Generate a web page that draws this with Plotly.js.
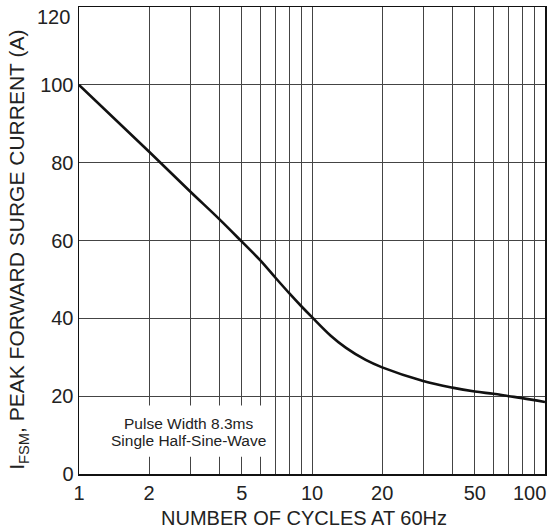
<!DOCTYPE html>
<html>
<head>
<meta charset="utf-8">
<script src="https://cdn.plot.ly/plotly-3.0.1.min.js"></script>
<style>html,body{margin:0;padding:0;background:#fff;}#chart{width:556px;height:531px;}</style>
</head>
<body>
<div id="chart"></div>
<script>
// Data
const cycles = [1, 2, 3, 4, 5, 6, 7, 8, 9, 10, 12, 14, 17, 20, 30, 40, 50, 60, 70, 80, 100];
const surgeCurrent = [100, 82.8, 72.6, 65.5, 59.7, 54.9, 50.3, 46.4, 43.1, 40.3, 35.6, 32.4, 29.3, 27.4, 23.9, 22.2, 21.2, 20.6, 20.0, 19.5, 18.5];

// Axis ticks / grid
const xTickVals = [1, 2, 5, 10, 20, 50];
const xTickLabels = ['1', '2', '5', '10', '20', '50'];
const xMinorGrid = [3, 4, 6, 7, 8, 9, 30, 40, 60, 70, 80, 90];
const xEndLabel = {value: 100, text: '100'};
const yTickVals = [0, 20, 40, 60, 80, 100];
const yTickLabels = ['0', '20', '40', '60', '80', '100'];
const yEndLabel = {value: 120, text: '120'};

const xTitle = 'NUMBER OF CYCLES AT 60Hz';
const yTitle = 'I<sub>FSM</sub>, PEAK FORWARD SURGE CURRENT (A)';
const noteLines = ['Pulse Width 8.3ms', 'Single Half-Sine-Wave'];

const FONT = 'Liberation Sans, Arial, sans-serif';
const TXT = '#222';
const GRID = '#444';

const trace = {
  x: cycles,
  y: surgeCurrent,
  type: 'scatter',
  mode: 'lines',
  line: {color: '#111', width: 2.6, shape: 'spline', smoothing: 1},
  hoverinfo: 'skip'
};

const layout = {
  width: 556,
  height: 531,
  margin: {l: 79, r: 11, t: 7, b: 57},
  paper_bgcolor: '#fff',
  plot_bgcolor: '#fff',
  showlegend: false,
  font: {family: FONT, color: TXT},
  xaxis: {
    type: 'log',
    range: [0, 2],
    tickmode: 'array',
    tickvals: xTickVals,
    ticktext: xTickLabels,
    ticks: '',
    showgrid: true,
    gridcolor: GRID,
    gridwidth: 1,
    minor: {tickmode: 'array', tickvals: xMinorGrid, showgrid: true, gridcolor: GRID, gridwidth: 1, ticks: ''},
    showline: true,
    linecolor: '#111',
    linewidth: 1.5,
    mirror: true,
    zeroline: false,
    automargin: false,
    tickfont: {size: 20, family: FONT, color: TXT}
  },
  yaxis: {
    range: [0, 120],
    tickmode: 'array',
    tickvals: yTickVals,
    ticktext: yTickLabels,
    ticks: '',
    showgrid: true,
    gridcolor: GRID,
    gridwidth: 1,
    showline: true,
    linecolor: '#111',
    linewidth: 1.5,
    mirror: true,
    zeroline: false,
    automargin: false,
    tickfont: {size: 20, family: FONT, color: TXT}
  },
  shapes: [{
    type: 'rect', xref: 'paper', yref: 'y',
    x0: 0.004, x1: 0.42, y0: 4.45, y1: 17.6,
    fillcolor: '#fff', line: {width: 0}, layer: 'above'
  }],
  annotations: [
    {xref: 'paper', yref: 'y', x: 0.234, y: 13.1, xanchor: 'center', yanchor: 'middle',
     text: noteLines[0], showarrow: false, font: {size: 15.5, family: FONT, color: TXT}},
    {xref: 'paper', yref: 'y', x: 0.234, y: 8.7, xanchor: 'center', yanchor: 'middle',
     text: noteLines[1], showarrow: false, font: {size: 15.5, family: FONT, color: TXT}},
    // end tick labels pulled inside the figure, as in the reference
    {xref: 'paper', yref: 'y', x: 0, y: yEndLabel.value, xanchor: 'right', yanchor: 'middle',
     xshift: -7, yshift: -10, text: yEndLabel.text, showarrow: false,
     font: {size: 20, family: FONT, color: TXT}},
    {xref: 'x', yref: 'paper', x: Math.log10(xEndLabel.value), y: 0, xanchor: 'right', yanchor: 'middle',
     xshift: 3, yshift: -19, text: xEndLabel.text, showarrow: false,
     font: {size: 20, family: FONT, color: TXT}},
    // axis titles
    {xref: 'paper', yref: 'paper', x: 0.483, y: -0.094, xanchor: 'center', yanchor: 'middle',
     text: xTitle, showarrow: false, font: {size: 20, family: FONT, color: TXT}},
    {xref: 'paper', yref: 'paper', x: -0.131, y: 0.48, xanchor: 'center', yanchor: 'middle',
     textangle: -90, text: yTitle, showarrow: false, font: {size: 21, family: FONT, color: TXT}}
  ]
};

Plotly.newPlot('chart', [trace], layout, {displayModeBar: false, staticPlot: true});
</script>
</body>
</html>
